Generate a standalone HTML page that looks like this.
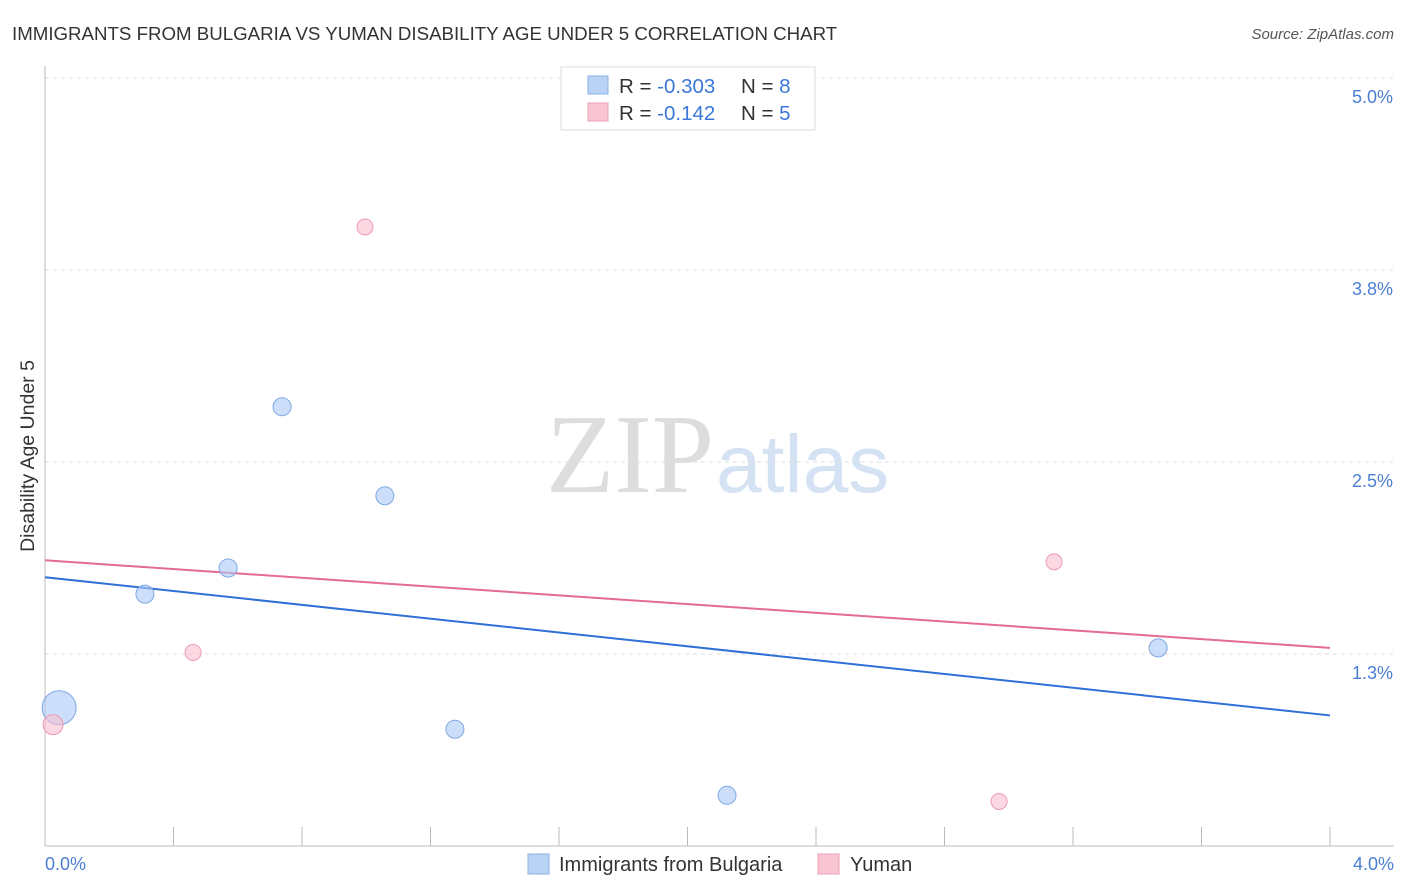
<!DOCTYPE html>
<html><head><meta charset="utf-8"><style>
body{margin:0;background:#fff;font-family:"Liberation Sans",sans-serif;}
svg{display:block}
</style></head><body>
<svg width="1406" height="892" xmlns="http://www.w3.org/2000/svg">
<text x="12" y="40" font-size="18.7" fill="#333">IMMIGRANTS FROM BULGARIA VS YUMAN DISABILITY AGE UNDER 5 CORRELATION CHART</text>
<text x="1394" y="39" font-size="15" fill="#555" font-style="italic" text-anchor="end">Source: ZipAtlas.com</text>
<text x="714" y="492" font-size="112" fill="#ddd" font-family="Liberation Serif,serif" text-anchor="end">ZIP</text>
<text x="716" y="492" font-size="82" fill="#d4e2f4">atlas</text>
<g id="grid"></g>
<line x1="45" y1="66" x2="45" y2="846" stroke="#bbb"/>
<line x1="45" y1="846" x2="1394" y2="846" stroke="#bbb"/>
<g id="xticks"></g>
<text x="45" y="870" font-size="18" fill="#4a7fd4">0.0%</text>
<text x="1394" y="870" font-size="18" fill="#4a7fd4" text-anchor="end">4.0%</text>
<text transform="translate(34,456) rotate(-90)" font-size="19.5" fill="#333" text-anchor="middle">Disability Age Under 5</text>
<g id="lines"></g>
<g id="points"></g>
<g>
<rect x="561" y="67" width="254" height="63" fill="#fff" stroke="#ddd"/>
<rect x="588" y="76" width="20" height="18" fill="#b9d3f5" stroke="#8ab0e6"/>
<rect x="588" y="103" width="20" height="18" fill="#f9c5d3" stroke="#eda0b7"/>
<text x="619" y="93" font-size="20.5" fill="#333">R = <tspan fill="#3b78d8">-0.303</tspan></text>
<text x="741" y="93" font-size="20.5" fill="#333">N = <tspan fill="#3b78d8">8</tspan></text>
<text x="619" y="120" font-size="20.5" fill="#333">R = <tspan fill="#3b78d8"> -0.142</tspan></text>
<text x="741" y="120" font-size="20.5" fill="#333">N = <tspan fill="#3b78d8">5</tspan></text>
</g>
<g>
<rect x="528" y="854" width="21" height="20" fill="#b9d3f5" stroke="#8ab0e6"/>
<text x="559" y="871" font-size="20" fill="#333">Immigrants from Bulgaria</text>
<rect x="818" y="854" width="21" height="20" fill="#f9c5d3" stroke="#eda0b7"/>
<text x="850" y="871" font-size="20" fill="#333">Yuman</text>
</g>
</svg>
<script>
const yTicks=[5.0,3.75,2.5,1.25];
const yTickLabels=["5.0%","3.8%","2.5%","1.3%"];
const blueX=[0.044,0.311,0.570,0.738,1.058,1.276,2.123,3.465];
const blueY=[0.90,1.64,1.81,2.86,2.28,0.76,0.33,1.29];
const blueR=[17,9,9,9,9,9,9,9];
const pinkX=[0.025,0.461,0.996,3.141,2.970];
const pinkY=[0.79,1.26,4.03,1.85,0.29];
const blueLine=[1.75,0.85];
const pinkLine=[1.86,1.29];
const xMax=4.0;
const NS="http://www.w3.org/2000/svg";
function sx(v){return 45+v*(1330-45)/4;}
function sy(v){return 846-v*153.6;}
function mk(tag,attrs,parent){const e=document.createElementNS(NS,tag);for(const k in attrs)e.setAttribute(k,attrs[k]);document.getElementById(parent).appendChild(e);return e;}
yTicks.forEach((t,i)=>{
 const l=mk('line',{x1:45,x2:1394,y1:sy(t),y2:sy(t),stroke:'#ddd','stroke-dasharray':'4,4'},'grid');
 
 
 const tx=mk('text',{x:1393,y:sy(t)+25,'font-size':18,fill:'#4a7fd4','text-anchor':'end'},'grid');
 tx.textContent=yTickLabels[i];
 
 
});
for(let v=0.4;v<=xMax+0.001;v+=0.4){
 const l=mk('line',{x1:sx(v),x2:sx(v),y1:827,y2:846,stroke:'#bbb'},'xticks');
 
 
}
const bl=mk('line',{x1:sx(0),y1:sy(blueLine[0]),x2:sx(xMax),y2:sy(blueLine[1]),stroke:'#2f6fd6','stroke-width':2},'lines');


const pl=mk('line',{x1:sx(0),y1:sy(pinkLine[0]),x2:sx(xMax),y2:sy(pinkLine[1]),stroke:'#e56b93','stroke-width':2},'lines');


blueX.forEach((x,i)=>{
 const c=mk('circle',{cx:sx(x),cy:sy(blueY[i]),r:blueR[i],fill:'rgba(170,200,245,0.6)',stroke:'#7fa8e4','stroke-width':1},'points');
 
 
});
pinkX.forEach((x,i)=>{
 const c=mk('circle',{cx:sx(x),cy:sy(pinkY[i]),r:i==0?10:8,fill:'rgba(248,190,206,0.6)',stroke:'#ec9ab3','stroke-width':1},'points');
 
 
});
</script>
</body></html>
